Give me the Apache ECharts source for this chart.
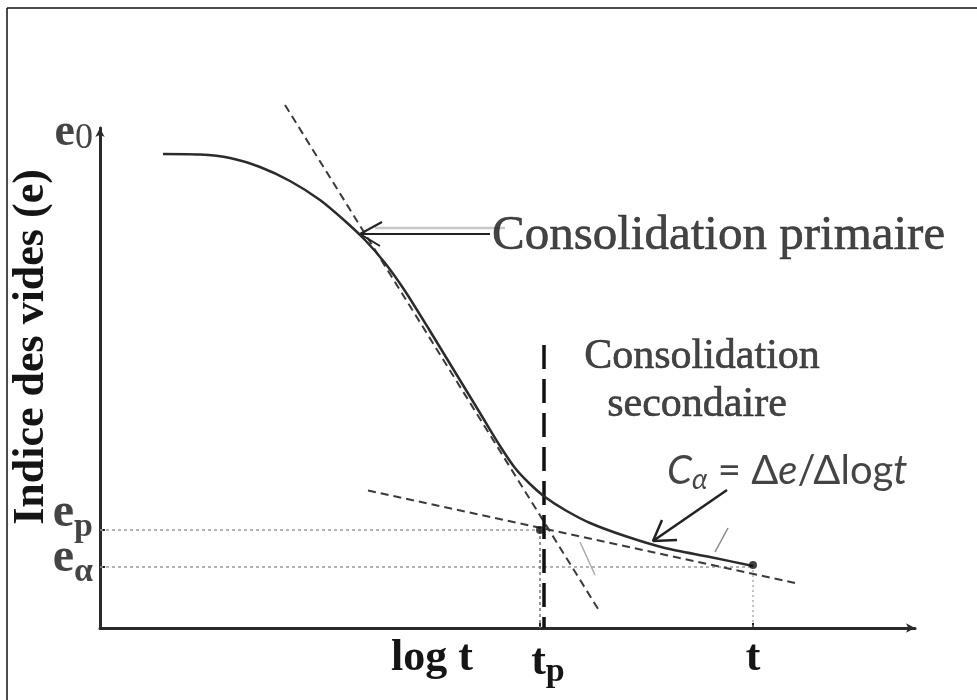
<!DOCTYPE html>
<html><head><meta charset="utf-8">
<script src="https://cdn.jsdelivr.net/npm/echarts@6/dist/echarts.min.js"></script>
<style>html,body{margin:0;padding:0;background:#fff}#c{width:977px;height:700px}</style>
</head><body><div id="c"></div>
<script>
// Schematic units: x = log t (arbitrary units), y = void ratio e (arbitrary units)
const curveLogT = [12.6, 20, 26, 32, 38, 44, 49, 53, 57, 61, 66, 71, 76, 80, 83, 86, 89, 93, 98, 105, 113, 122, 130.6];
const curveE    = [94.8, 94.7, 94, 92.2, 89.4, 85.6, 81.4, 77.6, 73, 67.4, 59.4, 51.2, 43, 36.4, 32, 28.8, 26.2, 23.6, 21, 18.4, 16, 14.2, 12.4];
const primaryTangentLogT = [37, 100];
const primaryTangentE = [104.6, 3.2];
const secondaryTangentLogT = [53.6, 139];
const secondaryTangentE = [27.5, 9];
const tpLogT = 88, tEndLogT = 130.6, tpDashLogT = 88.8;
const e0Val = 99, epVal = 19.6, eAlphaVal = 12.2, eEndVal = 12.6;
const tpDashE = [56.6, 0];
const logTLabelPos = 66.4, tpLabelPos = 89.6;
const yTickLabels = ['e0', 'ep', 'eα'];
const xTickLabels = ['log t', 'tp', 't'];
// y label anchor positions (slightly above the tick they name)
const yLabelPos = [99, 22.8, 13.8];
// arrows (tail -> tip, plus barbs)
const arrowPrimaryLogT = [78, 52];
const arrowPrimaryE = [78.8, 78.8];
const arrowPrimaryShadowE = [80, 80];
const arrowPrimaryBarbsLogT = [56.4, 52, 56];
const arrowPrimaryBarbsE = [81.2, 78.8, 76.4];
const arrowCaLogT = [125.4, 110.6];
const arrowCaE = [27.6, 17.4];
const arrowCaBarbsLogT = [112.4, 110.6, 115.4];
const arrowCaBarbsE = [21.6, 17.4, 17.6];
const smallMarkLogT = [125.6, 123];
const smallMarkE = [20, 15.2];
const smallMark2LogT = [96, 99];
const smallMark2E = [17.2, 10.6];
// annotations
const annoText = ['Consolidation primaire', 'Consolidation', 'secondaire', 'Cα'];
const annoLogT = [78.4, 120.4, 119.4, 113.4];
const annoE = [78.4, 54.2, 44.6, 31.4];

const ink = '#151515';
const pairs = (xs, ys) => xs.map((x, i) => [x, ys[i]]);
const serif = 'Liberation Serif';

function lineSeries(xs, ys, style, extra) {
  return Object.assign({
    type: 'line', data: pairs(xs, ys), showSymbol: false, clip: false, silent: true,
    lineStyle: style, z: 3
  }, extra || {});
}

const yRich = {
  e: { fontFamily: serif, fontWeight: 'bold', fontSize: 48, color: ink },
  e0: { fontFamily: serif, fontWeight: 'bold', fontSize: 46, color: ink },
  s: { fontFamily: serif, fontWeight: 'bold', fontSize: 34, color: ink, padding: [26, 0, 0, 0] },
  s0: { fontFamily: serif, fontWeight: 'normal', fontSize: 36, color: ink, padding: [12, 0, 0, 0] }
};
const yLabelFmt = ['{e0|e}{s0|0}', '{e|e}{s|p}', '{e|e}{s|α}'];
const xRich = {
  t: { fontFamily: serif, fontWeight: 'bold', fontSize: 44, color: ink },
  s: { fontFamily: serif, fontWeight: 'bold', fontSize: 34, color: ink, padding: [18, 0, 0, 0] }
};

const option = {
  animation: false,
  backgroundColor: '#fff',
  grid: { left: 100, right: 62, top: 128, bottom: 72, outerBoundsMode: 'none', containLabel: false },
  xAxis: {
    type: 'value', min: 0, max: 163,
    axisLine: { show: true, symbol: ['none', 'arrow'], symbolSize: [7, 9], lineStyle: { color: '#2a2a2a', width: 3 } },
    axisTick: { show: true, inside: true, length: 5, customValues: [tpLogT, tEndLogT], lineStyle: { color: '#222', width: 2 } },
    axisLabel: {
      show: true, hideOverlap: false, customValues: [logTLabelPos, tpLabelPos, tEndLogT], margin: 9,
      formatter: v => {
        if (Math.abs(v - logTLabelPos) < 0.01) return '{t|' + xTickLabels[0] + '}';
        if (Math.abs(v - tpLabelPos) < 0.01) return '{t|t}{s|p}';
        return '{t|' + xTickLabels[2] + '}';
      },
      rich: xRich
    },
    splitLine: { show: false }
  },
  yAxis: {
    type: 'value', min: 0, max: 100,
    name: 'Indice des vides (e)', nameLocation: 'middle', nameGap: 46, nameRotate: 90,
    nameTextStyle: { fontFamily: serif, fontWeight: 'bold', fontSize: 44, color: ink, padding: [0, 0, 0, 62] },
    axisLine: { show: true, symbol: ['none', 'arrow'], symbolSize: [7, 9], lineStyle: { color: '#2a2a2a', width: 3 } },
    axisTick: { show: true, inside: true, length: 5, customValues: [epVal, eAlphaVal], lineStyle: { color: '#222', width: 2 } },
    axisLabel: { show: false },
    splitLine: { show: false }
  },
  series: [
    // reference dotted lines
    lineSeries([0, tpLogT], [epVal, epVal], { color: '#9a9a9a', width: 1.5, type: [3, 3] }),
    lineSeries([0, tEndLogT], [eAlphaVal, eAlphaVal], { color: '#9a9a9a', width: 1.5, type: [3, 3] }),
    lineSeries([tpLogT, tpLogT], [epVal, 0], { color: '#777', width: 1.5, type: [3, 3] }),
    lineSeries([tEndLogT, tEndLogT], [eEndVal, 0], { color: '#999', width: 1.2, type: [2, 3] }),
    // tangents
    lineSeries(primaryTangentLogT, primaryTangentE, { color: '#3a3a3a', width: 2, type: [8, 5] }),
    lineSeries(secondaryTangentLogT, secondaryTangentE, { color: '#3a3a3a', width: 2, type: [8, 5] }),
    // tp long dashed vertical
    lineSeries([tpDashLogT, tpDashLogT], tpDashE, { color: '#111', width: 3.5, type: [24, 10] }),
    // main curve
    lineSeries(curveLogT, curveE, { color: '#2b2b2b', width: 2.5 }, { smooth: 0.25, z: 4 }),
    // arrows
    lineSeries(arrowPrimaryLogT.map(v => v + 3), arrowPrimaryShadowE, { color: '#c8c8c8', width: 2.5 }),
    lineSeries(arrowPrimaryLogT, arrowPrimaryE, { color: '#222', width: 2 }),
    lineSeries(arrowPrimaryBarbsLogT, arrowPrimaryBarbsE, { color: '#222', width: 2 }),
    lineSeries(arrowCaLogT, arrowCaE, { color: '#222', width: 2.5 }),
    lineSeries(arrowCaBarbsLogT, arrowCaBarbsE, { color: '#222', width: 2.5 }),
    lineSeries(smallMarkLogT, smallMarkE, { color: '#888', width: 1.5 }),
    lineSeries(smallMark2LogT, smallMark2E, { color: '#aaa', width: 1.5 }),
    // points
    {
      type: 'scatter', silent: true, z: 5, symbol: 'circle',
      data: [[tpLogT, epVal], [tEndLogT, eEndVal]],
      symbolSize: 8, itemStyle: { color: '#111' }
    },
    // y tick labels e0, ep, eα
    {
      type: 'scatter', silent: true, z: 6, symbolSize: 0,
      data: yTickLabels.map((t, i) => ({
        value: [0, yLabelPos[i]], name: t,
        label: { show: true, position: 'left', distance: 7, formatter: yLabelFmt[i], rich: yRich }
      }))
    },
    // annotations
    {
      type: 'scatter', silent: true, z: 6, symbolSize: 0,
      data: annoText.map((t, i) => ({
        value: [annoLogT[i], annoE[i]],
        label: i === 3 ? {
          show: true, position: 'inside', align: 'left', verticalAlign: 'middle',
          formatter: '{i|C}{a|α}{n| = Δ}{i|e}{n|/Δlog}{i|t}',
          rich: {
            i: { fontFamily: 'Lato', fontStyle: 'italic', fontSize: 40, color: ink },
            a: { fontFamily: 'Lato', fontStyle: 'italic', fontSize: 28, color: ink, padding: [18, 0, 0, 0] },
            n: { fontFamily: 'Lato', fontSize: 40, color: ink }
          }
        } : {
          show: true, position: 'inside', align: i === 0 ? 'left' : 'center', verticalAlign: 'middle',
          formatter: t, fontFamily: serif, fontSize: i === 0 ? 49 : 42, color: ink,
          textBorderColor: ink, textBorderWidth: 0.6
        }
      }))
    }
  ],
  graphic: [
    { type: 'line', shape: { x1: 7, y1: 8, x2: 7, y2: 700 }, style: { stroke: '#111', lineWidth: 1.5 } },
    { type: 'line', shape: { x1: 7, y1: 8, x2: 977, y2: 8 }, style: { stroke: '#111', lineWidth: 1.5 } }
  ]
};
echarts.init(document.getElementById('c'), null, { renderer: 'canvas' }).setOption(option);
</script></body></html>
